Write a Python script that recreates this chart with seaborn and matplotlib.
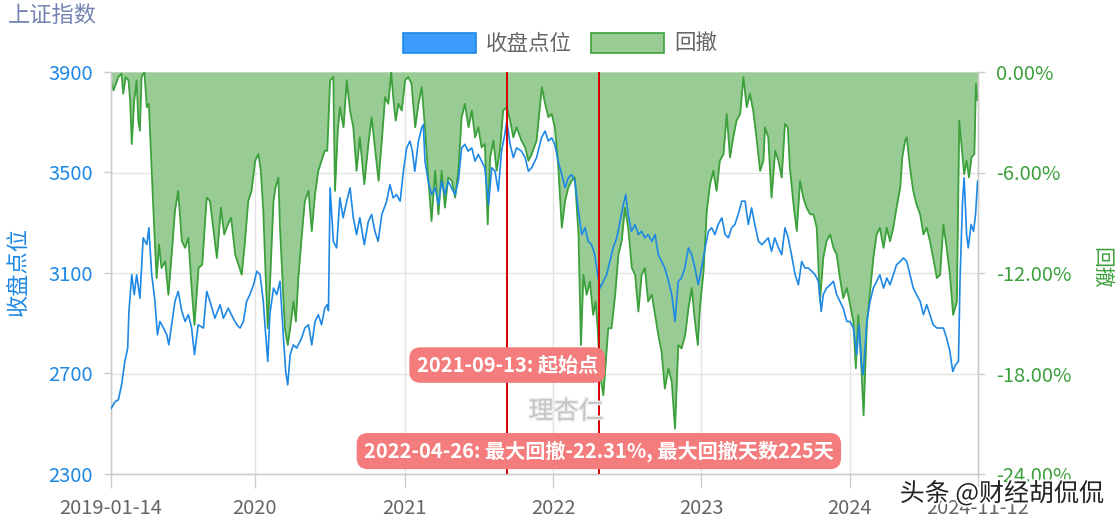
import matplotlib
matplotlib.use("Agg")
import matplotlib.pyplot as plt
import matplotlib.patheffects as pe
from matplotlib.patches import Patch
import pandas as pd
import seaborn as sns

sns.set_theme(style="white")
plt.rcParams["font.family"] = ["Noto Sans CJK SC", "DejaVu Sans"]
plt.rcParams["axes.unicode_minus"] = False

# ---------------- data ----------------
start_date = "2019-01-14"
end_date = "2024-11-12"

close_day = [0, 10, 18, 26, 34, 41, 44, 51, 57, 63, 71, 79, 88, 93, 100, 108, 114, 120, 129, 137,
             142, 149, 157, 165, 174, 182, 190, 198, 205, 214, 227, 235, 243, 255, 268, 276, 288, 300, 309, 317,
             325, 333, 341, 350, 358, 366, 374, 378, 385, 390, 399, 407, 415, 423, 429, 434, 440, 448, 456, 468,
             476, 485, 493, 501, 509, 517, 525, 531, 534, 538, 546, 554, 562, 570, 579, 587, 595, 603, 611, 622,
             632, 640, 648, 656, 665, 677, 685, 693, 701, 710, 718, 726, 734, 740, 746, 755, 763, 767, 771, 779,
             787, 796, 804, 812, 820, 828, 836, 845, 853, 861, 869, 877, 886, 894, 902, 910, 918, 927, 935, 943,
             951, 959, 967, 972, 980, 988, 996, 1008, 1017, 1025, 1033, 1045, 1057, 1066, 1074, 1082, 1090, 1098, 1107, 1115,
             1123, 1131, 1139, 1148, 1156, 1164, 1172, 1180, 1188, 1195, 1201, 1209, 1217, 1225, 1233, 1242, 1250, 1258, 1264, 1270,
             1278, 1287, 1295, 1303, 1311, 1319, 1328, 1336, 1344, 1352, 1360, 1369, 1377, 1385, 1393, 1401, 1409, 1418, 1426, 1434,
             1442, 1450, 1459, 1467, 1475, 1483, 1491, 1500, 1508, 1516, 1524, 1532, 1540, 1549, 1557, 1565, 1573, 1581, 1590, 1598,
             1606, 1614, 1622, 1630, 1639, 1647, 1655, 1663, 1671, 1680, 1688, 1696, 1704, 1712, 1721, 1729, 1737, 1744, 1749, 1757,
             1766, 1774, 1782, 1790, 1798, 1807, 1815, 1823, 1831, 1837, 1843, 1847, 1856, 1864, 1872, 1880, 1888, 1897, 1905, 1913,
             1921, 1929, 1938, 1946, 1954, 1962, 1970, 1978, 1987, 1995, 2003, 2011, 2019, 2028, 2036, 2044, 2052, 2060, 2067, 2074,
             2081, 2085, 2091, 2095, 2101, 2105, 2112, 2118, 2123, 2128]
close_val = [2560, 2588, 2595, 2655, 2748, 2801, 2947, 3093, 3014, 3093, 3000, 3240, 3213, 3280, 3093, 2987, 2854, 2907, 2881, 2854,
             2814, 2894, 2987, 3027, 2947, 2907, 2934, 2881, 2775, 2894, 2881, 3027, 2987, 2920, 2974, 2920, 2960, 2920, 2894, 2881,
             2907, 2987, 3014, 3053, 3107, 3093, 2987, 2894, 2748, 2934, 3040, 3014, 3067, 2854, 2708, 2655, 2775, 2814, 2801, 2841,
             2881, 2894, 2814, 2907, 2934, 2894, 2960, 2974, 2950, 3439, 3226, 3200, 3399, 3320, 3386, 3439, 3320, 3253, 3320, 3213,
             3306, 3333, 3266, 3226, 3333, 3386, 3452, 3399, 3412, 3386, 3505, 3598, 3625, 3585, 3505, 3625, 3678, 3691, 3545, 3466,
             3412, 3439, 3372, 3466, 3412, 3466, 3439, 3412, 3466, 3598, 3612, 3585, 3598, 3545, 3572, 3545, 3519, 3372, 3519, 3505,
             3426, 3585, 3652, 3705, 3612, 3559, 3598, 3585, 3559, 3505, 3519, 3559, 3638, 3665, 3625, 3638, 3612, 3545, 3492, 3439,
             3479, 3492, 3466, 3346, 3253, 3280, 3226, 3213, 3173, 3093, 3040, 3067, 3093, 3146, 3200, 3240, 3306, 3372, 3412, 3333,
             3266, 3293, 3253, 3266, 3240, 3253, 3226, 3253, 3173, 3146, 3120, 3067, 3014, 2907, 3067, 3080, 3120, 3200, 3173, 3120,
             3053, 3120, 3200, 3266, 3280, 3253, 3293, 3320, 3253, 3240, 3280, 3293, 3333, 3386, 3386, 3293, 3359, 3293, 3226, 3213,
             3226, 3240, 3186, 3240, 3200, 3173, 3280, 3240, 3173, 3093, 3053, 3146, 3120, 3120, 3107, 3093, 3067, 2947, 3014, 3040,
             3053, 3067, 3014, 2987, 2960, 2907, 2907, 2881, 2775, 2894, 2735, 2695, 2907, 2987, 3040, 3067, 3093, 3040, 3080, 3053,
             3093, 3133, 3146, 3160, 3146, 3093, 3040, 3014, 2987, 2934, 2974, 2934, 2894, 2881, 2881, 2881, 2841, 2788, 2708, 2735,
             2748, 3080, 3386, 3479, 3253, 3200, 3293, 3266, 3333, 3466]

dd_day = [0, 6, 12, 18, 26, 30, 36, 43, 47, 51, 57, 63, 67, 71, 75, 82, 88, 93, 100, 106,
          112, 118, 124, 133, 141, 149, 157, 165, 174, 182, 190, 198, 205, 215, 224, 235, 243, 249, 260, 270,
          278, 287, 295, 305, 313, 321, 329, 337, 345, 354, 362, 368, 374, 380, 385, 391, 399, 404, 411, 415,
          421, 427, 434, 440, 448, 454, 460, 468, 476, 485, 493, 501, 509, 517, 525, 531, 538, 546, 550, 557,
          562, 571, 579, 587, 595, 603, 611, 622, 632, 640, 648, 657, 665, 673, 681, 688, 693, 699, 706, 714,
          722, 730, 738, 747, 755, 763, 771, 779, 787, 796, 804, 812, 820, 828, 837, 845, 853, 861, 869, 878,
          886, 894, 902, 910, 918, 925, 931, 939, 947, 955, 963, 972, 980, 988, 996, 1008, 1017, 1025, 1033, 1045,
          1058, 1066, 1074, 1082, 1090, 1098, 1107, 1115, 1123, 1131, 1139, 1148, 1154, 1160, 1168, 1176, 1184, 1190, 1195, 1201,
          1209, 1215, 1221, 1229, 1238, 1246, 1254, 1262, 1270, 1279, 1287, 1295, 1303, 1311, 1319, 1328, 1336, 1344, 1352, 1360,
          1369, 1377, 1385, 1393, 1401, 1410, 1418, 1426, 1434, 1441, 1446, 1455, 1463, 1471, 1479, 1487, 1495, 1504, 1512, 1520,
          1528, 1536, 1545, 1553, 1561, 1569, 1577, 1585, 1594, 1602, 1606, 1614, 1622, 1631, 1639, 1647, 1655, 1662, 1667, 1676,
          1684, 1692, 1700, 1708, 1717, 1725, 1733, 1741, 1749, 1757, 1766, 1774, 1782, 1790, 1798, 1807, 1815, 1823, 1829, 1835,
          1842, 1848, 1856, 1864, 1872, 1880, 1888, 1897, 1905, 1913, 1921, 1929, 1938, 1943, 1950, 1954, 1962, 1970, 1978, 1987,
          1995, 2003, 2011, 2019, 2028, 2036, 2044, 2052, 2060, 2068, 2077, 2083, 2089, 2095, 2101, 2107, 2113, 2120, 2124, 2128]
dd_val = [-0.5, -1.1, -0.7, -0.3, -0.1, -1.3, -0.3, -0.5, -1.7, -4.3, -1.7, -0.5, -2.9, -3.5, -0.3, 0.0, -2.1, -1.9, -5.9, -9.3,
          -12.3, -10.3, -11.7, -11.3, -13.3, -10.9, -8.3, -7.1, -10.1, -10.5, -9.9, -12.9, -15.1, -11.7, -11.5, -7.5, -7.7, -8.9, -11.1, -8.1,
          -9.7, -9.1, -8.7, -10.9, -11.5, -12.1, -10.1, -7.7, -7.1, -5.3, -4.9, -5.9, -8.3, -12.3, -15.3, -12.3, -7.7, -6.9, -6.3, -9.3,
          -12.3, -15.3, -16.3, -15.3, -13.7, -14.9, -12.3, -9.9, -7.7, -7.1, -9.5, -7.3, -5.9, -5.3, -4.7, -4.7, -0.5, -0.3, -7.1, -3.5,
          -2.1, -3.3, -0.5, -2.3, -3.3, -5.9, -3.9, -6.7, -4.3, -2.7, -4.5, -6.5, -4.1, -1.5, -1.9, 0.0, -1.5, -2.9, -1.9, -2.3,
          -0.5, -0.3, -0.7, -3.3, -1.9, -0.9, -3.3, -6.3, -8.9, -5.9, -8.5, -5.9, -8.1, -6.3, -6.5, -7.5, -5.9, -2.7, -1.9, -3.3,
          -2.3, -3.9, -3.3, -4.5, -4.3, -9.1, -5.1, -4.1, -5.9, -4.7, -2.3, -2.1, -2.9, -3.9, -3.3, -4.1, -4.5, -5.3, -4.9, -4.1,
          -0.9, -1.9, -2.7, -2.5, -3.3, -5.5, -9.3, -7.7, -6.9, -6.5, -6.3, -9.7, -16.3, -12.1, -13.3, -12.5, -14.5, -13.7, -15.3, -18.1,
          -19.3, -17.3, -15.3, -15.3, -13.3, -10.9, -10.1, -8.1, -9.3, -11.7, -12.1, -14.3, -12.1, -11.7, -13.7, -13.3, -14.5, -15.7, -16.7, -18.9,
          -17.7, -18.5, -21.3, -16.3, -16.5, -15.7, -14.1, -12.9, -14.9, -16.3, -14.1, -11.9, -8.3, -6.7, -5.9, -7.1, -5.3, -4.9, -2.5, -5.1,
          -3.9, -2.9, -2.5, -0.3, -2.1, -1.3, -2.3, -3.9, -5.9, -5.3, -3.3, -3.9, -7.5, -4.7, -5.3, -6.3, -3.1, -3.3, -5.7, -7.9,
          -9.5, -6.5, -7.5, -8.1, -8.5, -8.5, -9.3, -13.7, -11.1, -10.1, -9.7, -10.5, -10.9, -12.3, -13.5, -12.9, -13.9, -14.9, -17.7, -14.5,
          -17.3, -20.5, -15.1, -13.1, -11.1, -9.7, -9.3, -10.5, -9.3, -10.1, -9.3, -8.1, -6.9, -5.1, -4.1, -3.9, -5.7, -7.1, -7.9, -8.5,
          -9.7, -9.3, -10.1, -11.1, -12.3, -12.1, -9.1, -10.5, -12.1, -14.5, -13.7, -2.9, -4.5, -6.1, -5.3, -6.3, -5.1, -4.9, -0.7, -1.7]

x_tick_dates = ["2019-01-14", "2020-01-02", "2021-01-04", "2022-01-04", "2023-01-03", "2024-01-02", "2024-11-12"]
x_tick_labels = ["2019-01-14", "2020", "2021", "2022", "2023", "2024", "2024-11-12"]
left_ticks = [2300, 2700, 3100, 3500, 3900]
right_ticks = [-24, -18, -12, -6, 0]
marker_dates = ["2021-09-13", "2022-04-26"]
marker_texts = ["2021-09-13: 起始点", "2022-04-26: 最大回撤-22.31%, 最大回撤天数225天"]
marker_ypos = [0.271, 0.057]

title_text = "上证指数"
series_names = ["收盘点位", "回撤"]

# ---------------- styles ----------------
BLUE = "#1e88e5"
BLUE_FILL = "#3d9bfb"
GREEN = "#3ca03c"
GREEN_FILL = "#98cc94"
GRID = "#e3e3e3"
AXIS = "#cccccc"
GRAY_TXT = "#666666"

t0 = pd.Timestamp(start_date)
close_df = pd.DataFrame({"date": t0 + pd.to_timedelta(close_day, unit="D"), "close": close_val})
dd_df = pd.DataFrame({"date": t0 + pd.to_timedelta(dd_day, unit="D"), "dd": dd_val})

fig = plt.figure(figsize=(11.2, 5.25), dpi=100)
ax1 = fig.add_axes([111 / 1120, 1 - 474 / 525, (978 - 111) / 1120, (474 - 72) / 525])
ax2 = ax1.twinx()
ax1.set_zorder(ax2.get_zorder() + 1)
ax1.patch.set_visible(False)

# drawdown (right axis)
ax2.fill_between(dd_df["date"], 0, dd_df["dd"], color=GREEN_FILL, linewidth=0, zorder=1)
sns.lineplot(data=dd_df, x="date", y="dd", ax=ax2, color=GREEN, linewidth=1.3, zorder=2)

# close (left axis)
sns.lineplot(data=close_df, x="date", y="close", ax=ax1, color=BLUE, linewidth=1.2, zorder=3)

xmin, xmax = pd.Timestamp(start_date), pd.Timestamp(end_date)
ax1.set_xlim(xmin, xmax)
ax1.set_ylim(left_ticks[0], left_ticks[-1])
ax2.set_ylim(right_ticks[0], right_ticks[-1])

ax1.set_yticks(left_ticks)
ax1.set_yticklabels([str(v) for v in left_ticks])
ax2.set_yticks(right_ticks)
ax2.set_yticklabels([f"{v:.2f}%" for v in right_ticks])
ax1.set_xticks(pd.to_datetime(x_tick_dates))
ax1.set_xticklabels(x_tick_labels)

ax1.set_xlabel("")
ax1.set_ylabel("")
ax2.set_xlabel("")
ax2.set_ylabel("")

# grid lines
for v in right_ticks[1:]:
    ax2.axhline(v, color=GRID, linewidth=1, zorder=0)
for d in x_tick_dates[1:-1]:
    ax2.axvline(pd.Timestamp(d), color=GRID, linewidth=1, zorder=0)
ax1.grid(False)
ax2.grid(False)

for ax in (ax1, ax2):
    ax.spines["top"].set_visible(False)
    for s in ("left", "right", "bottom"):
        ax.spines[s].set_color(AXIS)
        ax.spines[s].set_linewidth(1)

ax1.tick_params(axis="y", colors=AXIS, labelcolor=BLUE, labelsize=14.5, length=5, width=1, pad=8, left=True)
ax2.tick_params(axis="y", colors=AXIS, labelcolor=GREEN, labelsize=14.5, length=5, width=1, pad=8, right=True)
ax1.tick_params(axis="x", colors=AXIS, labelcolor=GRAY_TXT, labelsize=14.5, length=10, width=1, pad=7, bottom=True)

# red markers and annotations
for d, txt, yp in zip(marker_dates, marker_texts, marker_ypos):
    ts = pd.Timestamp(d)
    ax1.axvline(ts, color="#d40000", linewidth=1.4, zorder=4)
    ax1.text(ts, yp, txt, transform=ax1.get_xaxis_transform(), ha="center", va="center",
             fontsize=14.5, fontweight="bold", color="white", zorder=6,
             bbox=dict(boxstyle="round,pad=0.36,rounding_size=0.55", facecolor="#f47c7c", edgecolor="none"))

# faint watermark
ax1.text(0.525, 0.155, "理杏仁", transform=ax1.transAxes, ha="center", va="center",
         fontsize=18, color="#c4c4c4", zorder=5,
         path_effects=[pe.withStroke(linewidth=2, foreground="#efefef")])

# titles / axis names
fig.text(8 / 1120, 1 - 15 / 525, title_text, ha="left", va="center", fontsize=16, color="#7485b3")
fig.text(18 / 1120, 1 - 272 / 525, series_names[0], ha="center", va="center", rotation=90,
         fontsize=16, color=BLUE)
fig.text(1101 / 1120, 1 - 268 / 525, series_names[1], ha="center", va="center", rotation=270,
         fontsize=15, color=GREEN)

# legend
handles = [Patch(facecolor=BLUE_FILL, edgecolor=BLUE, linewidth=1.2, label=series_names[0]),
           Patch(facecolor=GREEN_FILL, edgecolor=GREEN, linewidth=1.2, label=series_names[1])]
fig.legend(handles=handles, loc="center", bbox_to_anchor=(560 / 1120, 1 - 44 / 525), ncol=2, frameon=False,
           fontsize=15.5, handlelength=3.4, handleheight=1.1, handletextpad=0.45, columnspacing=0.9,
           labelcolor=GRAY_TXT)

# platform watermark
fig.text(1104 / 1120, 1 - 494 / 525, "头条 @财经胡侃侃", ha="right", va="center", fontsize=18, color="#222222",
         path_effects=[pe.withStroke(linewidth=3, foreground="white")], zorder=10)

fig.savefig("out.png", dpi=100)
